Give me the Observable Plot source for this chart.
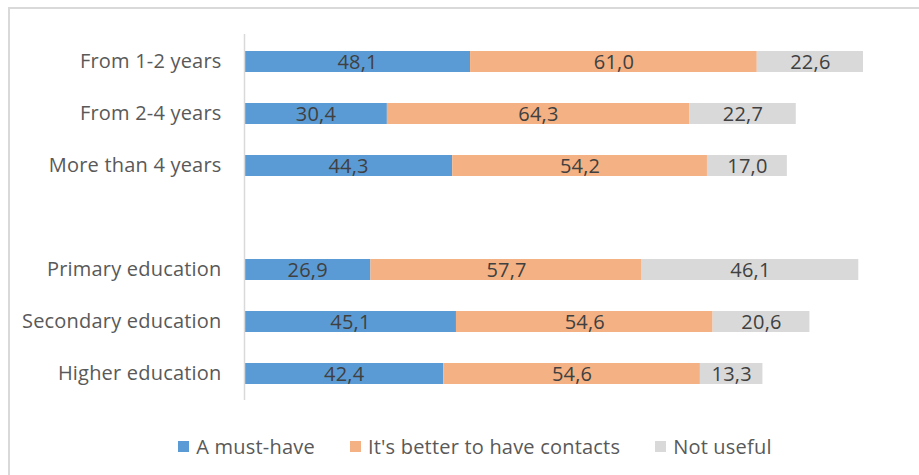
<!DOCTYPE html>
<html>
<head>
<meta charset="utf-8">
<script src="https://cdn.jsdelivr.net/npm/d3@7"></script>
<script src="https://cdn.jsdelivr.net/npm/@observablehq/plot@0.6"></script>
<style>
  html, body { margin: 0; padding: 0; background: #fff; overflow: hidden; }
  #frame {
    position: absolute; left: 8px; top: 7px;
    width: 980px; height: 540px;
    border: 2px solid #d9d9d9; box-sizing: border-box;
    font-family: "Open Sans", sans-serif;
  }
  #legend {
    width: 909px; box-sizing: border-box; padding-left: 21px;
    margin-top: 14px; height: 28px;
    display: flex; justify-content: center; align-items: center;
    font-size: 20px; color: #595959; gap: 35px; letter-spacing: 0.2px;
  }
  .item { display: flex; align-items: center; gap: 7px; }
  .sw { width: 11px; height: 11px; display: inline-block; }
  svg { display: block; }
</style>
</head>
<body>
<div id="frame"><div id="chart"></div><div id="legend"></div></div>
<script>
// Survey answers per group: share of respondents (%) for each answer
const categories = ["From 1-2 years", "From 2-4 years", "More than 4 years",
  "Primary education", "Secondary education", "Higher education"];
const mustHave = [48.1, 30.4, 44.3, 26.9, 45.1, 42.4];
const betterContacts = [61.0, 64.3, 54.2, 57.7, 54.6, 54.6];
const notUseful = [22.6, 22.7, 17.0, 46.1, 20.6, 13.3];
const seriesNames = ["A must-have", "It's better to have contacts", "Not useful"];
const seriesColors = ["#5b9bd5", "#f4b183", "#d9d9d9"];

// blank slot separating the experience groups from the education groups
const gap = " ";
const yDomain = [...categories.slice(0, 3), gap, ...categories.slice(3)];

const seriesValues = [mustHave, betterContacts, notUseful];
const rows = [];
categories.forEach((cat, i) => {
  seriesNames.forEach((s, j) => rows.push({cat, series: s, value: seriesValues[j][i]}));
});

const fmt = v => v.toFixed(1).replace(".", ",");

const chart = Plot.plot({
  width: 909,
  height: 409,
  marginLeft: 234,
  marginRight: 17,
  marginTop: 25,
  marginBottom: 18,
  style: {fontFamily: "Open Sans, sans-serif", fontSize: "20px", background: "#fff", letterSpacing: "0.2px"},
  x: {domain: [0, 140], axis: null},
  y: {domain: yDomain, paddingInner: 0.6, paddingOuter: 0.3, label: null},
  color: {domain: seriesNames, range: seriesColors},
  marks: [
    Plot.barX(rows, Plot.stackX({x: "value", y: "cat", fill: "series", order: seriesNames})),
    Plot.text(rows, Plot.stackX({
      x: "value", y: "cat", z: "series", order: seriesNames,
      text: d => fmt(d.value), fill: "#404040", fontSize: 20, dy: 1
    })),
    Plot.ruleX([0], {stroke: "#d9d9d9", strokeWidth: 1.5}),
    Plot.axisY({tickSize: 0, tickPadding: 23, fill: "#595959", fontSize: 20, label: null,
      tickFormat: d => d === gap ? "" : d})
  ]
});
document.getElementById("chart").append(chart);

const legend = document.getElementById("legend");
seriesNames.forEach((s, i) => {
  const item = document.createElement("div");
  item.className = "item";
  const sw = document.createElement("span");
  sw.className = "sw";
  sw.style.background = seriesColors[i];
  const label = document.createElement("span");
  label.textContent = s;
  item.append(sw, label);
  legend.append(item);
});
</script>
</body>
</html>
